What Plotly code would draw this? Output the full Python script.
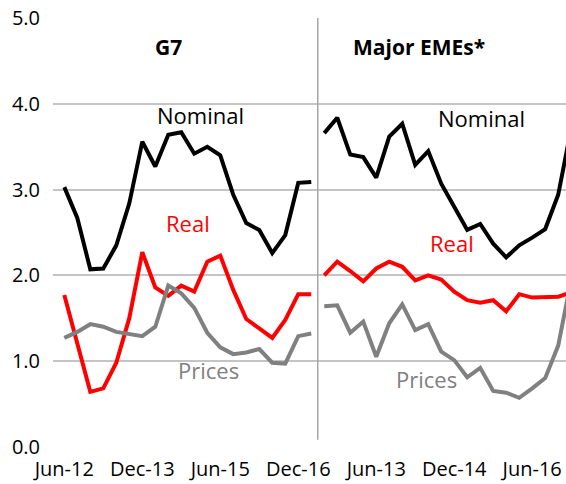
import plotly.graph_objects as go

# Quarterly periods (Jun-12 .. Mar-17) for each panel
quarters = ["Jun-12", "Sep-12", "Dec-12", "Mar-13", "Jun-13", "Sep-13", "Dec-13", "Mar-14",
            "Jun-14", "Sep-14", "Dec-14", "Mar-15", "Jun-15", "Sep-15", "Dec-15", "Mar-16",
            "Jun-16", "Sep-16", "Dec-16", "Mar-17"]

g7_nominal = [3.03, 2.67, 2.07, 2.08, 2.35, 2.84, 3.56, 3.27, 3.64, 3.67,
              3.42, 3.50, 3.40, 2.94, 2.61, 2.53, 2.26, 2.47, 3.08, 3.09]
g7_real = [1.77, 1.21, 0.64, 0.68, 0.98, 1.50, 2.27, 1.86, 1.76, 1.88,
           1.81, 2.16, 2.23, 1.83, 1.49, 1.38, 1.27, 1.48, 1.78, 1.78]
g7_prices = [1.27, 1.34, 1.43, 1.40, 1.34, 1.31, 1.29, 1.40, 1.88, 1.79,
             1.62, 1.33, 1.16, 1.08, 1.10, 1.14, 0.98, 0.97, 1.29, 1.32]

eme_nominal = [3.66, 3.84, 3.41, 3.38, 3.14, 3.62, 3.77, 3.29, 3.45, 3.07,
               2.80, 2.53, 2.60, 2.37, 2.21, 2.35, 2.44, 2.54, 2.94, 3.72]
eme_real = [2.00, 2.16, 2.05, 1.93, 2.08, 2.16, 2.10, 1.94, 2.00, 1.95,
            1.81, 1.71, 1.68, 1.71, 1.58, 1.78, 1.74, 1.74, 1.75, 1.80]
eme_prices = [1.64, 1.65, 1.33, 1.46, 1.05, 1.44, 1.66, 1.36, 1.43, 1.11,
              1.01, 0.81, 0.92, 0.65, 0.63, 0.57, 0.68, 0.80, 1.18, 1.95]

tick_labels = ["Jun-12", "Dec-13", "Jun-15", "Dec-16", "Jun-13", "Dec-14", "Jun-16"]
y_ticks = [0, 1, 2, 3, 4, 5]

n = len(quarters)
x_g7 = list(range(n))
x_eme = list(range(n, 2 * n))
all_labels = quarters + quarters
tick_positions = [i for i, q in enumerate(all_labels) if q in ("Jun-12", "Dec-13", "Jun-15", "Dec-16") and i < n] + \
                 [i for i, q in enumerate(all_labels) if q in ("Jun-13", "Dec-14", "Jun-16") and i >= n]

FONT = "Open Sans"
BLACK, RED, GREY = "#000000", "#FF0000", "#808080"

fig = go.Figure()
for xs, ys, col in [(x_g7, g7_nominal, BLACK), (x_g7, g7_real, RED), (x_g7, g7_prices, GREY),
                    (x_eme, eme_nominal, BLACK), (x_eme, eme_real, RED), (x_eme, eme_prices, GREY)]:
    fig.add_trace(go.Scatter(x=xs, y=ys, mode="lines", line=dict(color=col, width=4),
                             showlegend=False, hoverinfo="skip"))

# panel divider
fig.add_shape(type="line", xref="x", yref="y", x0=n - 0.5, x1=n - 0.5, y0=0.08, y1=5.05,
              line=dict(color="#A6A6A6", width=1.5))

ann = [
    ("G7", 8.0, 4.67, BLACK, True),
    ("Major EMEs*", 27.3, 4.67, BLACK, True),
    ("Nominal", 10.5, 3.87, BLACK, False),
    ("Nominal", 32.1, 3.84, BLACK, False),
    ("Real", 9.5, 2.61, RED, False),
    ("Real", 29.8, 2.38, RED, False),
    ("Prices", 11.1, 0.90, GREY, False),
    ("Prices", 27.9, 0.79, GREY, False),
]
for txt, x, y, col, bold in ann:
    fig.add_annotation(x=x, y=y, xref="x", yref="y", text=f"<b>{txt}</b>" if bold else txt,
                       showarrow=False, font=dict(family=FONT, size=21 if bold else 22, color=col))

fig.update_xaxes(range=[-0.87, 38.6], tickvals=tick_positions, ticktext=tick_labels,
                 showgrid=False, zeroline=False, showline=False,
                 ticks="outside", ticklen=4, tickcolor="rgba(0,0,0,0)",
                 tickfont=dict(family=FONT, size=20, color=BLACK))
fig.update_yaxes(range=[-0.004, 5.004], tickvals=y_ticks, tickformat=".1f",
                 showgrid=True, gridcolor="#C4C4C4", gridwidth=1.5,
                 zeroline=False, showline=False,
                 ticks="outside", ticklen=8, tickcolor="rgba(0,0,0,0)",
                 tickfont=dict(family=FONT, size=20, color=BLACK))

fig.update_layout(width=566, height=484, margin=dict(l=53, r=0, t=18, b=37),
                  plot_bgcolor="white", paper_bgcolor="white", font=dict(family=FONT))

fig.write_html("out.html", config={"displayModeBar": False},
               post_script="document.body.style.margin='0';document.body.style.overflow='hidden';")
